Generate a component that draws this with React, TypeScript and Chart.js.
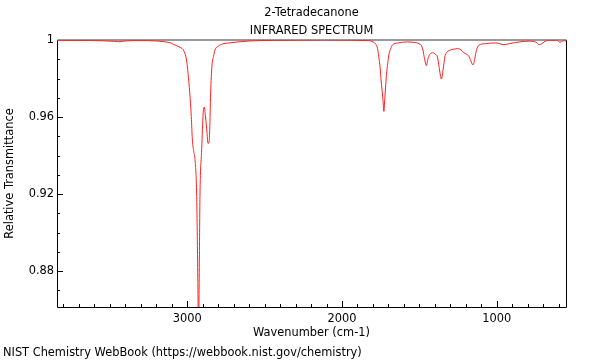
import React, { useEffect, useRef } from "react";
import { Chart, registerables } from "chart.js";
Chart.register(...registerables);

const titleLines = ["2-Tetradecanone", "INFRARED SPECTRUM"];
const xTitle = "Wavenumber (cm-1)";
const yTitle = "Relative Transmittance";
const footer = "NIST Chemistry WebBook (https://webbook.nist.gov/chemistry)";

const xMajorTicks = [3000, 2000, 1000];
const yMajorTicks = [0.88, 0.92, 0.96, 1];
const xMinorTicks = [3800, 3700, 3600, 3500, 3400, 3300, 3200, 3100, 2900, 2800, 2700, 2600, 2500, 2400, 2300, 2200, 2100, 1900, 1800, 1700, 1600, 1500, 1400, 1300, 1200, 1100, 900, 800, 700, 600];
const yMinorTicks = [0.87, 0.89, 0.9, 0.91, 0.93, 0.94, 0.95, 0.97, 0.98, 0.99];

const xMin = 552;
const xMax = 3842;
const yMin = 0.8613;
const yMax = 1.0;

const wavenumbers = [
  3842, 3700, 3550, 3470, 3435, 3400, 3300, 3200, 3150, 3112,
  3080, 3047, 3020, 3005, 2995, 2984, 2974, 2967, 2958, 2950,
  2939, 2933, 2927, 2922, 2918, 2907, 2897, 2890, 2882, 2872,
  2866, 2860, 2855, 2849, 2840, 2830, 2821, 2800, 2770, 2724,
  2659, 2595, 2450, 2300, 2100, 1948, 1840, 1817, 1795, 1784,
  1770, 1762, 1754, 1747, 1741, 1736, 1729, 1723, 1717, 1712,
  1704, 1696, 1685, 1674, 1641, 1576, 1530, 1510, 1495, 1488,
  1477, 1466, 1455, 1444, 1433, 1422, 1412, 1396, 1383, 1372,
  1357, 1346, 1335, 1324, 1313, 1280, 1247, 1230, 1214, 1192,
  1177, 1164, 1153, 1142, 1131, 1116, 1072, 1006, 952, 919,
  853, 787, 760, 740, 728, 715, 700, 688, 655, 612,
  591, 575, 562, 552,
];

const transmittance = [
  0.9998, 0.9998, 0.9996, 0.9993, 0.9991, 0.9995, 0.9997, 0.9995, 0.9991, 0.9986,
  0.9974, 0.9962, 0.994, 0.9896, 0.9827, 0.9725, 0.9602, 0.9481, 0.942, 0.938,
  0.9186, 0.8842, 0.85, 0.8842, 0.9186, 0.9429, 0.9621, 0.9652, 0.96, 0.9515,
  0.9463, 0.9465, 0.953, 0.972, 0.987, 0.9915, 0.9948, 0.9968, 0.998, 0.9985,
  0.9991, 0.9995, 0.9998, 0.9999, 1.0, 0.9999, 0.9997, 0.9996, 0.9988, 0.9981,
  0.9955, 0.9912, 0.986, 0.9787, 0.974, 0.9699, 0.9629, 0.9699, 0.977, 0.9823,
  0.988, 0.9927, 0.9955, 0.9974, 0.9984, 0.999, 0.9987, 0.9984, 0.9978, 0.9974,
  0.9948, 0.9902, 0.9867, 0.9902, 0.9925, 0.9932, 0.9934, 0.9925, 0.9912, 0.9858,
  0.9797, 0.9849, 0.9912, 0.9935, 0.9943, 0.9952, 0.9955, 0.9948, 0.9934, 0.9925,
  0.9912, 0.9885, 0.987, 0.9902, 0.9946, 0.9972, 0.9981, 0.9985, 0.9976, 0.9981,
  0.999, 0.9994, 0.9992, 0.9986, 0.9976, 0.9978, 0.9986, 0.9993, 0.9999, 0.9999,
  0.9988, 0.9994, 0.9996, 0.9995,
];

const FONT_SIZE = 11.4;
const FONT = `${FONT_SIZE}px "DejaVu Sans"`;

const framePlugin = {
  id: "frame",
  beforeDatasetsDraw(chart: any) {
    const { ctx, chartArea, scales } = chart;
    const { left, right, top, bottom } = chartArea;
    const x = scales.x;
    const y = scales.y;
    ctx.save();
    ctx.strokeStyle = "#000";
    ctx.lineWidth = 1;
    const line = (x1: number, y1: number, x2: number, y2: number) => {
      ctx.beginPath();
      ctx.moveTo(x1, y1);
      ctx.lineTo(x2, y2);
      ctx.stroke();
    };
    for (const v of xMinorTicks) {
      const px = Math.round(x.getPixelForValue(v)) + 0.5;
      line(px, bottom, px, bottom - 3);
    }
    for (const v of xMajorTicks) {
      const px = Math.round(x.getPixelForValue(v)) + 0.5;
      line(px, bottom, px, bottom - 6);
    }
    for (const v of yMinorTicks) {
      const py = Math.round(y.getPixelForValue(v)) + 0.5;
      line(left, py, left + 3, py);
    }
    for (const v of yMajorTicks) {
      const py = Math.round(y.getPixelForValue(v)) + 0.5;
      line(left, py, left + 6, py);
    }
    const L = Math.round(left) + 0.5;
    const R = Math.round(right) + 0.5;
    const B = Math.round(bottom) + 0.5;
    line(L, top, L, B);
    line(L, B, R, B);
    line(R, top, R, B);
    ctx.strokeStyle = "#999";
    ctx.lineWidth = 2;
    line(L, Math.round(top), R, Math.round(top));
    ctx.restore();
  },
  afterDraw(chart: any) {
    const { ctx, chartArea } = chart;
    const { left, right, top, bottom } = chartArea;
    const cx = (left + right) / 2;
    ctx.save();
    ctx.fillStyle = "#000";
    ctx.font = FONT;
    ctx.textAlign = "center";
    ctx.textBaseline = "middle";
    ctx.fillText(titleLines[0], cx, 13);
    ctx.fillText(titleLines[1], cx, 31);
    ctx.fillText(xTitle, cx, 333);
    ctx.save();
    ctx.translate(10, (top + bottom) / 2);
    ctx.rotate(-Math.PI / 2);
    ctx.fillText(yTitle, 0, 0);
    ctx.restore();
    ctx.textAlign = "left";
    ctx.fillText(footer, 3, 353);
    ctx.restore();
  },
};

export default function App() {
  const canvasRef = useRef<HTMLCanvasElement | null>(null);

  useEffect(() => {
    const canvas = canvasRef.current;
    if (!canvas) return;
    const chart = new Chart(canvas, {
      type: "line",
      data: {
        datasets: [
          {
            data: wavenumbers.map((w, i) => ({ x: w, y: transmittance[i] })),
            borderColor: "#ff2020",
            borderWidth: 1,
            pointRadius: 0,
            fill: false,
            cubicInterpolationMode: "monotone",
          },
        ],
      },
      options: {
        animation: false,
        responsive: false,
        devicePixelRatio: 1,
        layout: { padding: { left: 0, right: 34, top: 40, bottom: 0 } },
        plugins: {
          legend: { display: false },
          tooltip: { enabled: false },
          title: { display: false },
        },
        scales: {
          x: {
            type: "linear",
            reverse: true,
            min: xMin,
            max: xMax,
            grid: { display: false, drawTicks: false },
            border: { display: false },
            afterBuildTicks: (scale: any) => {
              scale.ticks = xMajorTicks.map((v) => ({ value: v }));
            },
            afterFit: (scale: any) => {
              scale.height = 53;
            },
            ticks: {
              padding: 5,
              color: "#000",
              font: { family: "DejaVu Sans", size: FONT_SIZE },
              maxRotation: 0,
              autoSkip: false,
              callback: (v: any) => String(v),
            },
          },
          y: {
            type: "linear",
            min: yMin,
            max: yMax,
            grid: { display: false, drawTicks: false },
            border: { display: false },
            afterBuildTicks: (scale: any) => {
              scale.ticks = yMajorTicks.map((v) => ({ value: v }));
            },
            afterFit: (scale: any) => {
              scale.width = 57;
            },
            ticks: {
              padding: 3,
              color: "#000",
              font: { family: "DejaVu Sans", size: FONT_SIZE },
              autoSkip: false,
              callback: (v: any) => String(v),
            },
          },
        },
      },
      plugins: [framePlugin],
    });
    return () => chart.destroy();
  }, []);

  return (
    <div style={{ position: "fixed", left: 0, top: 0, width: 600, height: 360, background: "#fff" }}>
      <canvas ref={canvasRef} width={600} height={360} />
    </div>
  );
}
